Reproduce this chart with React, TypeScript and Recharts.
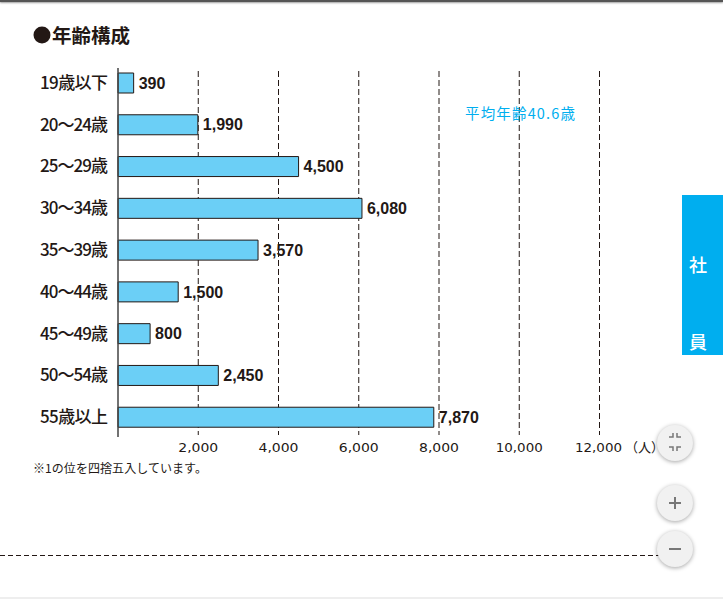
import React from "react";
import { BarChart, Bar, XAxis, YAxis, CartesianGrid, LabelList } from "recharts";

const ageGroups = ["19歳以下", "20〜24歳", "25〜29歳", "30〜34歳", "35〜39歳", "40〜44歳", "45〜49歳", "50〜54歳", "55歳以上"];
const printedCounts = [390, 1990, 4500, 6080, 3570, 1500, 800, 2450, 7870];
// bar lengths as they are drawn in the picture (two differ a little from their printed labels)
const drawnCounts = [390, 1990, 4500, 6080, 3490, 1500, 800, 2500, 7870];
const xTicks = [0, 2000, 4000, 6000, 8000, 10000, 12000];
const rows = ageGroups.map((age, i) => ({
  age,
  count: drawnCounts[i],
  label: printedCounts[i].toLocaleString("en-US"),
}));

const INK = "#231815";
const JP = '"Noto Sans CJK JP", "Noto Sans", sans-serif';
const SANS = '"Liberation Sans", Arial, sans-serif';

const XTick = (p: any) =>
  p.payload.value === 0 ? null : (
    <text x={p.payload.value >= 12000 ? p.x - 1 : p.x} y={p.y + 6} textAnchor="middle" fontFamily='"DejaVu Sans", sans-serif' fontSize={13} fill={INK} textLength={p.payload.value >= 10000 ? 47 : 40} lengthAdjust="spacingAndGlyphs">
      {p.payload.value.toLocaleString("en-US")}
    </text>
  );

const YTick = (p: any) => (
  <text x={40} y={p.y + 6} textAnchor="start" fontFamily={JP} fontWeight={500} fontSize={17} fill={INK} textLength={68} lengthAdjust="spacing">
    {p.payload.value}
  </text>
);

const GridLine = (p: any) =>
  p.x1 < 120 ? <g key={p.key} /> : <line key={p.key} x1={p.x1} x2={p.x2} y1={p.y1 + 9} y2={p.y2 - 3} stroke={INK} strokeWidth={1} strokeDasharray="6 3" />;

const Btn = ({ cy, children }: { cy: number; children?: React.ReactNode }) => (
  <g>
    <circle cx={675} cy={cy} r={18} fill="#f1f1f1" style={{ filter: "drop-shadow(0 1px 2px rgba(0,0,0,.35))" }} />
    {children}
  </g>
);

export default function App() {
  return (
    <div style={{ position: "absolute", left: 0, top: 0, width: 723, height: 599, overflow: "hidden", background: "#fff" }}>
      <div style={{ position: "absolute", left: 0, top: 0, width: 723, height: 2, background: "#555", boxShadow: "0 1px 2px rgba(0,0,0,.4)" }} />
      <div style={{ position: "absolute", left: 0, top: 597, width: 723, height: 2, background: "#eee" }} />
      <BarChart
        width={723}
        height={599}
        data={rows}
        layout="vertical"
        margin={{ top: 62, left: 0, right: 123.5, bottom: 0 }}
        barSize={20}
        style={{ position: "absolute", left: 0, top: 0 }}
      >
        <CartesianGrid horizontal={false} vertical={GridLine as any} />
        <XAxis type="number" domain={[0, 12000]} ticks={xTicks} axisLine={false} tickLine={false} tick={XTick} interval={0} height={161} />
        <YAxis
          type="category"
          dataKey="age"
          width={118}
          interval={0}
          tickLine={false}
          axisLine={{ stroke: "#444", strokeWidth: 1.5, strokeDasharray: "0 6 369 100" }}
          tick={YTick}
        />
        <Bar dataKey="count" fill="#6bcff6" stroke={INK} strokeWidth={1} isAnimationActive={false}>
          <LabelList
            dataKey="label"
            position="right"
            offset={5}
            style={{ fontFamily: SANS, fontWeight: 700, fontSize: 16, fill: INK }}
          />
        </Bar>
      </BarChart>
      <svg width={723} height={599} style={{ position: "absolute", left: 0, top: 0 }}>
        <line x1={0} x2={660} y1={555.5} y2={555.5} stroke={INK} strokeDasharray="5 3" />
        <circle cx={42} cy={35} r={8.5} fill={INK} />
        <text x={52} y={43} fontFamily={JP} fontWeight={700} fontSize={19.5} fill={INK}>年齢構成</text>
        <text x={465} y={119} fontFamily={JP} fontSize={14.5} fill="#00aeef" textLength={110} lengthAdjust="spacing">平均年齢40.6歳</text>
        <text x={625} y={452} fontFamily={JP} fontSize={13} fill={INK}>（人）</text>
        <text x={33} y={473} fontFamily={JP} fontSize={12} fill={INK} textLength={174} lengthAdjust="spacing">※1の位を四捨五入しています。</text>
        <rect x={682} y={195} width={41} height={160} fill="#00aeef" />
        <text x={698} y={272} textAnchor="middle" fontFamily={JP} fontWeight={500} fontSize={18} fill="#fff">社</text>
        <text x={698} y={349} textAnchor="middle" fontFamily={JP} fontWeight={500} fontSize={18} fill="#fff">員</text>
        <Btn cy={443}>
          <path d="M669 438h4v-4M681 438h-4v-4M669 448h4v4M681 448h-4v4" fill="none" stroke="#777" strokeWidth={1.5} transform="translate(0,-1)" />
        </Btn>
        <Btn cy={503}>
          <path d="M669 503h12M675 497v12" fill="none" stroke="#777" strokeWidth={2} />
        </Btn>
        <Btn cy={549}>
          <path d="M669 549h12" fill="none" stroke="#777" strokeWidth={2} />
        </Btn>
      </svg>
    </div>
  );
}
